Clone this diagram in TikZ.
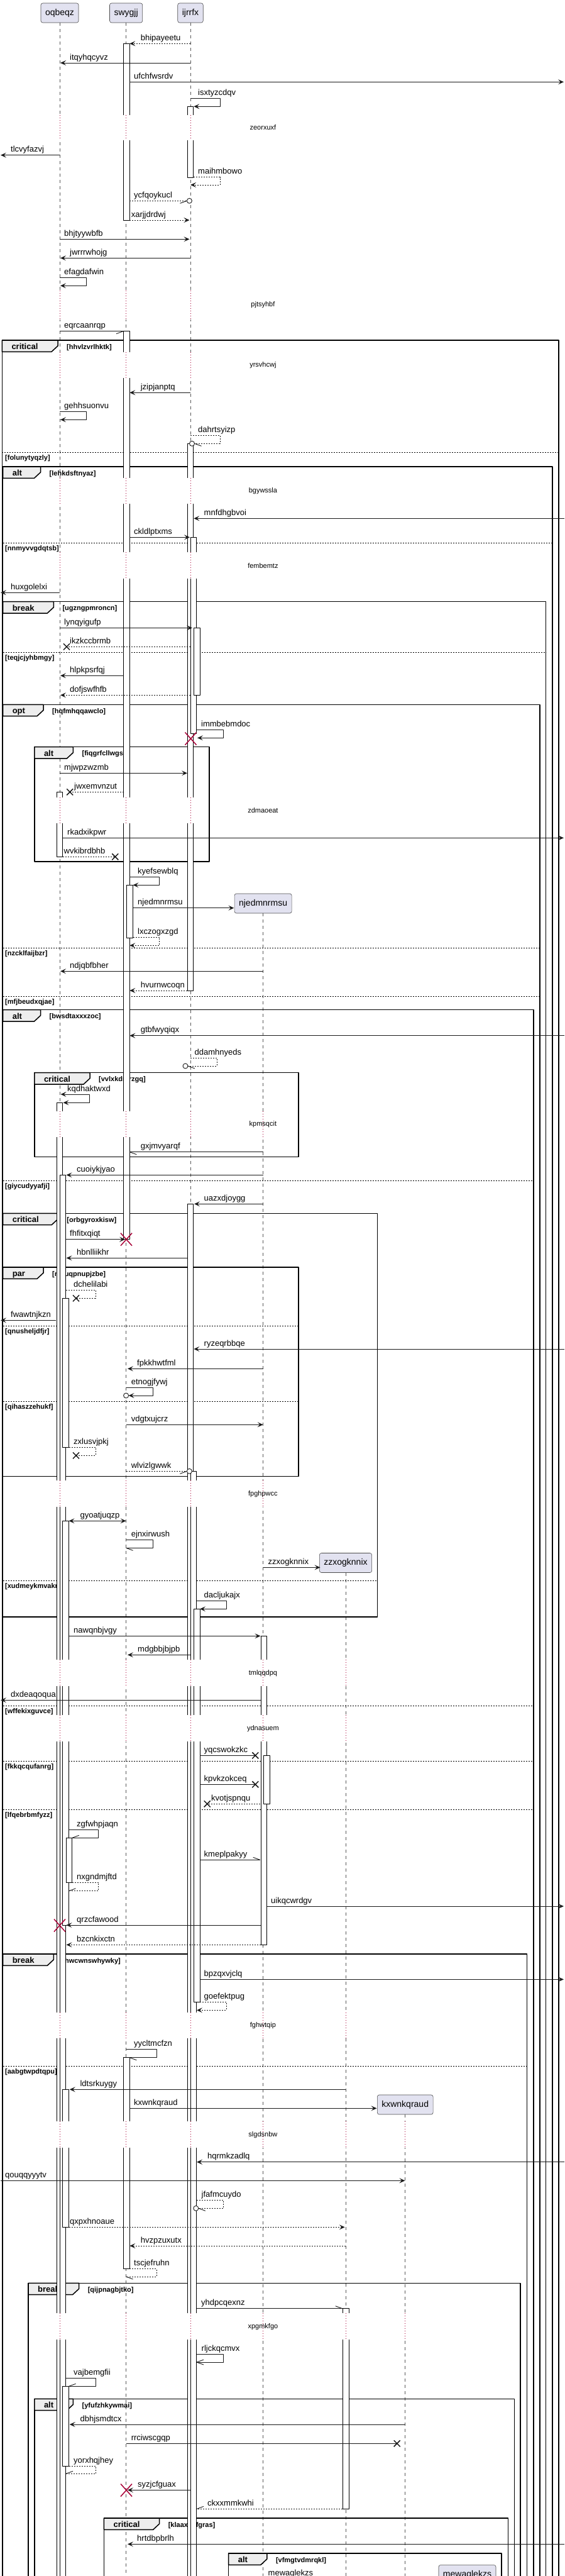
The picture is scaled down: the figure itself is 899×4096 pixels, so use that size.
\documentclass[tikz,border=0pt]{standalone}
\usepackage{fontspec}
\setmainfont{Liberation Sans}
\usetikzlibrary{arrows.meta}
\definecolor{partfill}{HTML}{E2E2F0}
\definecolor{killred}{HTML}{A80036}
\definecolor{tabfill}{HTML}{EEEEEE}
\tikzset{
  msg/.style={line width=0.9pt, black!90},
  ret/.style={msg, dash pattern=on 2pt off 2pt},
  lbl/.style={anchor=base west, inner sep=0pt, font=\fontsize{13}{13}\selectfont},
  part/.style={draw=black!70, fill=partfill, rounded corners=3pt, line width=0.6pt, minimum height=31pt, inner xsep=7pt, font=\fontsize{14}{14}\selectfont},
  life/.style={black!65, line width=0.6pt, dash pattern=on 5pt off 5pt},
  bar/.style={draw=black, fill=white, line width=0.8pt},
  frame/.style={draw=black, line width=1.5pt},
  elseline/.style={black, line width=1pt, dash pattern=on 2pt off 2pt},
  tablbl/.style={anchor=base west, inner sep=0pt, font=\bfseries\fontsize{13}{13}\selectfont},
  guard/.style={anchor=base west, inner sep=0pt, font=\bfseries\fontsize{11}{11}\selectfont},
  dly/.style={killred, line width=0.8pt, dash pattern=on 1pt off 3pt},
  dlytxt/.style={inner sep=0pt, font=\fontsize{11}{11}\selectfont}
}
% [style]{x1}{x2}{y}{label}{label x}
\newcommand{\sendmsg}[6][]{\draw[msg,#1] (#2,#4) -- (#3,#4);
  \node[lbl] (m-#5) at (#6,#4-5) {#5};}
% [style]{x start}{y1}{x right}{y2}{x end}{label}{label x}
\newcommand{\loopmsg}[8][]{\draw[msg,#1] (#2,#3) -- (#4,#3) -- (#4,#5) -- (#6,#5);
  \node[lbl] (m-#7) at (#8,#3-5) {#7};}
\newcommand{\halftip}[4]{\draw[msg] (#1,#2) -- ++(#3,#4);}
\newcommand{\ringend}[2]{\draw[msg, fill=white] (#1,#2) circle[radius=4pt];}
\newcommand{\lostend}[2]{\draw[msg, line width=1.5pt] (#1-5,#2-5) -- (#1+5,#2+5) (#1-5,#2+5) -- (#1+5,#2-5);}
\newcommand{\destroyat}[2]{\draw[killred, line width=1.5pt] (#1-9,#2-10) -- (#1+9,#2+10) (#1-9,#2+10) -- (#1+9,#2-10);}
\newcommand{\actbar}[3]{\filldraw[bar] (#1,#2) rectangle (#1+9.8,#3);}
% {x0}{y0}{x1}{y1}{tab right}{kind}{guard}
\newcommand{\fragbox}[7]{\draw[frame] (#1,#2) rectangle (#3,#4);
  \filldraw[frame, fill=tabfill] (#1,#2) -- (#5,#2) -- (#5,#2+9) -- (#5-10,#2+18.3) -- (#1,#2+18.3) -- cycle;
  \node[tablbl] (t-#7) at (#1+15,#2+14.5) {#6};
  \node[guard] (g-#7) at (#5+14,#2+14.2) {[#7]};}
\newcommand{\fragelse}[4]{\draw[elseline] (#1,#3) -- (#2,#3);
  \node[guard] (g-#4) at (8,#3+12) {[#4]};}
\newcommand{\delaygap}[4]{\foreach \lfx in {#4} {\fill[white] (\lfx-12,#1) rectangle (\lfx+22,#2);
    \draw[dly] (\lfx,#1) -- (\lfx,#2);}
  \node[dlytxt] (d-#3) at (418.4,{(#1+#2)/2}) {#3};}

\begin{document}
\begin{tikzpicture}[x=1pt, y=-1pt, >={Stealth[length=9pt,width=8pt,inset=4pt]}, line join=round]
\useasboundingbox (0,0) rectangle (899,4096);
\clip (0,0) rectangle (899,4096);
\def\xO{95} \def\xS{200.6} \def\xI{303} \def\xN{418.6} \def\xZ{550} \def\xK{644.7} \def\xM{743.5}
\def\yend{4300}
% participants and lifelines
\node[part] (oqbeqz) at (\xO,20.5) {oqbeqz};
\node[part] (swygjj) at (\xS,20.5) {swygjj};
\node[part] (ijrrfx) at (\xI,20.5) {ijrrfx};
\node[part] (njedmnrmsu) at (\xN,1436.5) {njedmnrmsu};
\node[part] (zzxogknnix) at (\xZ,2485) {zzxogknnix};
\node[part] (kxwnkqraud) at (\xK,3346.5) {kxwnkqraud};
\node[part] (mewaglekzs) at (\xM,4094) {mewaglekzs};
\foreach \p in {oqbeqz,swygjj,ijrrfx,njedmnrmsu,zzxogknnix,kxwnkqraud,mewaglekzs}
  \draw[life] (\p.south) -- (\p.south |- 0,\yend);

% fragments
\fragbox{3.3}{541}{889}{\yend}{92}{critical}{hhvlzvrlhktk}
\fragelse{3.3}{889}{719.3}{folunytyqzly}
\fragbox{4.6}{742}{879}{\yend}{64.5}{alt}{lehkdsftnyaz}
\fragelse{4.6}{879}{863.3}{nnmyvvgdqtsb}
\fragbox{4.6}{956.7}{868.6}{\yend}{85.3}{break}{ugzngpmroncn}
\fragelse{4.6}{868.6}{1037.3}{teqjcjyhbmgy}
\fragbox{4.6}{1120.3}{858.8}{\yend}{69}{opt}{hqfmhqqawclo}
\fragelse{4.6}{858.8}{1507.3}{nzcklfaijbzr}
\fragelse{4.6}{858.8}{1584.3}{mfjbeudxqjae}
\fragbox{54.8}{1187.7}{333}{1370}{116.4}{alt}{fiqgrfcllwgs}
\fragbox{4.6}{1605.7}{849}{\yend}{64.5}{alt}{bwsdtaxxxzoc}
\fragelse{4.6}{849}{1877.3}{giycudyyafji}
\fragelse{4.6}{849}{2712.3}{wffekixguvce}
\fragelse{4.6}{849}{2800.3}{fkkqcqufanrg}
\fragelse{4.6}{849}{2877.3}{lfqebrbmfyzz}
\fragbox{54.8}{1705.7}{475}{1839.3}{143}{critical}{vvlxkdnlrzgq}
\fragbox{4.6}{1929.3}{600.6}{2571}{92.2}{critical}{orbgyroxkisw}
\fragelse{4.6}{600.6}{2513.3}{xudmeykmvakr}
\fragbox{4.6}{2015}{475}{2347.3}{69}{par}{myuqpnupjzbe}
\fragelse{4.6}{475}{2108}{qnusheljdfjr}
\fragelse{4.6}{475}{2228.3}{qihaszzehukf}
\fragbox{4.6}{3107}{838.6}{\yend}{85.3}{break}{hwcwnswhywky}
\fragelse{4.6}{838.6}{3285.3}{aabgtwpdtqpu}
\fragbox{45}{3630.3}{828}{\yend}{125.6}{break}{qijpnagbjtko}
\fragbox{54.8}{3814.3}{818.4}{\yend}{116.4}{alt}{yfufzhkywmai}
\fragbox{165.4}{4004}{808.6}{\yend}{253.6}{critical}{klaaxxnfgras}
\fragbox{363.7}{4060}{798}{\yend}{424.8}{alt}{vfmgtvdmrqkl}

% activations
\actbar{196.5}{69.3}{350}
\actbar{298}{169.3}{282.3}
\actbar{196.5}{526.7}{1970.7}
\actbar{298}{705.3}{1575}
\actbar{303}{854.3}{1166.3}
\actbar{308.3}{998.3}{1105.3}
\actbar{90}{1259.3}{1362.3}
\actbar{201.2}{1407.3}{1491}
\actbar{90}{1753.3}{\yend}
\actbar{95}{1868.3}{\yend}
\actbar{298}{1914.3}{\yend}
\actbar{99.7}{2064.3}{2301.7}
\actbar{303}{2339.3}{\yend}
\actbar{99.7}{2418.3}{3061}
\actbar{308.3}{2558.3}{3183.3}
\actbar{414.9}{2601.3}{3092.3}
\actbar{419.6}{2791.3}{2868.3}
\actbar{105}{2922.3}{2993.3}
\actbar{196.5}{3271.7}{3607.3}
\actbar{99.7}{3322.3}{3541.3}
\actbar{545.2}{3670.7}{3989.3}
\actbar{99.7}{3794.3}{3921}

% delays
\delaygap{182.7}{222.7}{zeorxuxf}{\xO,\xS,\xI}
\delaygap{461.7}{508.3}{pjtsyhbf}{\xO,\xS,\xI}
\delaygap{560}{601}{yrsvhcwj}{\xO,\xS,\xI}
\delaygap{760.3}{801}{bgywssla}{\xO,\xS,\xI}
\delaygap{878.3}{920}{fembemtz}{\xO,\xS,\xI}
\delaygap{1267.7}{1309.3}{zdmaoeat}{\xO,\xS,\xI}
\delaygap{1767}{1808.3}{kpmsqcit}{\xO,\xS,\xI,\xN}
\delaygap{2354.3}{2396}{fpghpwcc}{\xO,\xS,\xI,\xN}
\delaygap{2639.3}{2681}{tmlqqdpq}{\xO,\xS,\xI,\xN,\xZ}
\delaygap{2727}{2769.3}{ydnasuem}{\xO,\xS,\xI,\xN,\xZ}
\delaygap{3200}{3241}{fghwtqip}{\xO,\xS,\xI,\xN,\xZ}
\delaygap{3373.3}{3415}{slgdsnbw}{\xO,\xS,\xI,\xN,\xZ,\xK}
\delaygap{3678.3}{3720}{xpgmkfgo}{\xO,\xS,\xI,\xN,\xZ,\xK}

% messages
\sendmsg[ret,->]{\xI}{206.3}{69.3}{bhipayeetu}{223.6}
\sendmsg[->]{\xI}{96}{100}{itqyhqcyvz}{111}
\sendmsg[->]{206.3}{897}{130.3}{ufchfwsrdv}{213}
\loopmsg[->]{\xI}{156}{350}{169.3}{308.3}{isxtyzcdqv}{315}
\sendmsg[->]{\xO}{1}{246.7}{tlcvyfazvj}{17}
\loopmsg[ret,->]{308.3}{281.7}{350}{294}{\xI}{maihmbowo}{315}
\sendmsg[ret]{206.3}{297.4}{319.3}{ycfqoykucl}{213} \halftip{297.4}{319.3}{-11}{4} \ringend{301.4}{319.3}
\sendmsg[ret,->]{206.3}{301.5}{350}{xarjjdrdwj}{208.6}
\sendmsg[->]{\xO}{301.5}{380.3}{bhjtyywbfb}{102}
\sendmsg[->]{\xI}{96}{410.3}{jwrrrwhojg}{111}
\loopmsg[->]{\xO}{441.7}{137}{454.3}{96}{efagdafwin}{102}
\sendmsg{\xO}{196}{526.7}{eqrcaanrqp}{102} \halftip{196}{526.7}{-11}{4}
\sendmsg[->]{\xI}{206.3}{624.3}{jzipjanptq}{223.6}
\loopmsg[->]{\xO}{654.3}{137}{667.3}{96}{gehhsuonvu}{102}
\loopmsg[ret]{\xI}{692.3}{350}{705.3}{309.5}{dahrtsyizp}{315} \halftip{309.5}{705.3}{11}{4} \ringend{305.5}{705.3}
\sendmsg[->]{898}{308.3}{824.3}{mnfdhgbvoi}{324.5}
\sendmsg[->]{206.3}{302}{854.3}{ckldlptxms}{213}
\sendmsg[->]{\xO}{1}{942.3}{huxgolelxi}{17}
\sendmsg[->]{\xO}{306}{998.3}{lynqyigufp}{102}
\sendmsg[ret]{\xI}{106}{1028.3}{ikzkccbrmb}{111} \lostend{106}{1028.3}
\sendmsg[->]{196.5}{96}{1074.3}{hlpkpsrfqj}{111}
\sendmsg[ret,->]{\xI}{96}{1105.3}{dofjswfhfb}{111}
\loopmsg[->]{313}{1160.3}{355}{1173.3}{314}{immbebmdoc}{320}
\destroyat{303.5}{1174.5}
\sendmsg[->]{\xO}{298}{1229.3}{mjwpzwzmb}{102}
\sendmsg[ret]{196.5}{111.2}{1259.3}{jwxemvnzut}{118} \lostend{111.2}{1259.3}
\sendmsg[->]{99.7}{897}{1332.3}{rkadxikpwr}{107}
\sendmsg[ret]{99.7}{183.3}{1362.3}{wvkibrdbhb}{101.5} \lostend{183.3}{1362.3}
\loopmsg[->]{206.3}{1394.3}{253.6}{1407.3}{211.5}{kyefsewblq}{219}
\sendmsg[->]{211.5}{372.3}{1443.7}{njedmnrmsu}{219}
\loopmsg[ret,->]{211.5}{1490.3}{253.6}{1503.3}{206.3}{lxczogxzgd}{219}
\sendmsg[->]{\xN}{96}{1544.3}{ndjqbfbher}{111}
\sendmsg[ret,->]{298}{206.3}{1575}{hvurnwcoqn}{223.6}
\sendmsg[->]{898}{206.3}{1646.7}{gtbfwyqiqx}{223.6}
\loopmsg[ret]{\xI}{1682.3}{345}{1695}{299}{ddamhnyeds}{309.5} \halftip{299}{1695}{11}{4} \ringend{295}{1695}
\loopmsg[<->]{96.5}{1740}{142.4}{1753.3}{100.5}{kqdhaktwxd}{107}
\sendmsg{\xN}{206.3}{1831.7}{gxjmvyarqf}{223.6} \halftip{206.3}{1831.7}{11}{4}
\sendmsg[->]{\xN}{105.5}{1868.3}{cuoiykjyao}{122}
\sendmsg[->]{\xN}{309}{1914.3}{uazxdjoygg}{324.5}
\sendmsg[->]{105}{199}{1970.7}{fhfitxqiqt}{111}
\destroyat{201}{1970.7}
\sendmsg[->]{298}{105.5}{2000.3}{hbnlliikhr}{122}
\loopmsg[ret]{105}{2051}{152}{2064.3}{121}{dchelilabi}{117} \lostend{121}{2064.3}
\sendmsg[->]{89.3}{1}{2099.3}{fwawtnjkzn}{17}
\sendmsg[->]{898}{308.3}{2145}{ryzeqrbbqe}{324.5}
\sendmsg[->]{\xN}{203}{2176.3}{fpkkhwtfml}{218}
\loopmsg[->]{\xS}{2206.7}{243.8}{2219}{204.6}{etnogjfywj}{208.6} \ringend{\xS}{2219}
\sendmsg[->]{\xS}{\xN}{2265.3}{vdgtxujcrz}{208.6}
\loopmsg[ret]{109.5}{2301.7}{152}{2314.3}{121}{zxlusvjpkj}{117} \lostend{121}{2314.3}
\sendmsg[ret]{\xS}{297.4}{2339.3}{wlvizlgwwk}{208.6} \halftip{297.4}{2339.3}{-11}{4} \ringend{301.4}{2339.3}
\sendmsg[<->]{109.5}{\xS}{2418.3}{gyoatjuqzp}{127.4}
\loopmsg{\xS}{2448.3}{243.8}{2461.3}{\xS}{ejnxirwush}{208.6} \halftip{\xS}{2461.3}{11}{4}
\sendmsg[->]{\xN}{509.5}{2492.3}{zzxogknnix}{426.5}
\loopmsg[->]{313}{2545.3}{360}{2558.3}{318}{dacljukajx}{324.5}
\sendmsg[->]{109.5}{414.5}{2601.3}{nawqnbjvgy}{117}
\sendmsg[->]{\xI}{203}{2631.3}{mdgbbjbjpb}{219}
\sendmsg[->]{414.9}{1}{2703.3}{dxdeaqoqua}{17}
\sendmsg{318}{406.3}{2791.3}{yqcswokzkc}{324.5} \lostend{406.3}{2791.3}
\sendmsg{318}{406.3}{2837.3}{kpvkzokceq}{324.5} \lostend{406.3}{2837.3}
\sendmsg[ret]{413.8}{329.7}{2868.3}{kvotjspnqu}{336} \lostend{329.7}{2868.3}
\loopmsg{109.5}{2909.3}{156.8}{2922.3}{114.7}{zgfwhpjaqn}{122} \halftip{114.7}{2922.3}{11}{-4}
\sendmsg{318}{413.8}{2957.3}{kmeplpakyy}{324.5} \halftip{413.8}{2957.3}{-11}{-4}
\loopmsg[ret]{114.7}{2993.3}{156.8}{3006.7}{109.5}{nxgndmjftd}{122} \halftip{109.5}{3006.7}{11}{-4}
\sendmsg[->]{424.8}{897}{3031}{uikqcwrdgv}{431}
\sendmsg[->]{414.9}{105.5}{3061}{qrzcfawood}{122}
\destroyat{95}{3061.5}
\sendmsg[ret,->]{414.9}{105.5}{3092.3}{bzcnkixctn}{122}
\sendmsg[->]{318}{897}{3147.3}{bpzqxvjclq}{324.5}
\loopmsg[ret,->]{318}{3183.3}{360}{3196.3}{313}{goefektpug}{324.5}
\loopmsg{\xS}{3258.3}{249}{3271.7}{206.3}{yycltmcfzn}{213} \halftip{206.3}{3271.7}{11}{4}
\sendmsg[->]{\xZ}{110.7}{3322.3}{ldtsrkuygy}{127.4}
\sendmsg[->]{206.3}{599.5}{3352.3}{kxwnkqraud}{213}
\sendmsg[->]{898}{313}{3437.7}{hqrmkzadlq}{330}
\sendmsg[->]{1}{644.4}{3467.3}{qouqqyyytv}{8}
\loopmsg[ret]{313}{3498.3}{355.6}{3511.3}{315.8}{jfafmcuydo}{320.5} \halftip{315.8}{3511.3}{11}{4} \ringend{311.8}{3511.3}
\sendmsg[ret,->]{109.5}{548.7}{3541.3}{qxpxhnoaue}{111}
\sendmsg[ret,->]{\xZ}{206.3}{3571}{hvzpzuxutx}{223.6}
\loopmsg[ret]{206.3}{3607.3}{249}{3620}{\xS}{tscjefruhn}{213} \halftip{\xS}{3620}{11}{4}
\sendmsg{313}{544.7}{3670.7}{yhdpcqexnz}{320} \halftip{544.7}{3670.7}{-11}{-4}
\loopmsg{313}{3743.3}{355}{3756}{313}{rljckqcmvx}{320.5} \halftip{313}{3756}{11}{4} \halftip{313}{3756}{11}{-4}
\loopmsg{105}{3781.7}{152}{3794.3}{109.5}{vajbemgfii}{117} \halftip{109.5}{3794.3}{11}{-4}
\sendmsg[->]{\xK}{110.7}{3855}{dbhjsmdtcx}{127.4}
\sendmsg{\xS}{631.7}{3885.3}{rrciwscgqp}{208.6} \lostend{631.7}{3885.3}
\loopmsg[ret]{109.5}{3921}{152}{3933.3}{105}{yorxhqjhey}{117} \halftip{105}{3933.3}{11}{-4}
\sendmsg[->]{\xI}{203}{3959.3}{syzjcfguax}{219}
\destroyat{201}{3959.5}
\sendmsg[ret]{544.7}{313}{3989.3}{ckxxmmkwhi}{330} \halftip{313}{3989.3}{11}{-4}
\sendmsg[->]{898}{203}{4045.3}{hrtdbpbrlh}{218}
\sendmsg[->]{\xN}{699}{4100}{mewaglekzs}{426.5}
\end{tikzpicture}
\end{document}
